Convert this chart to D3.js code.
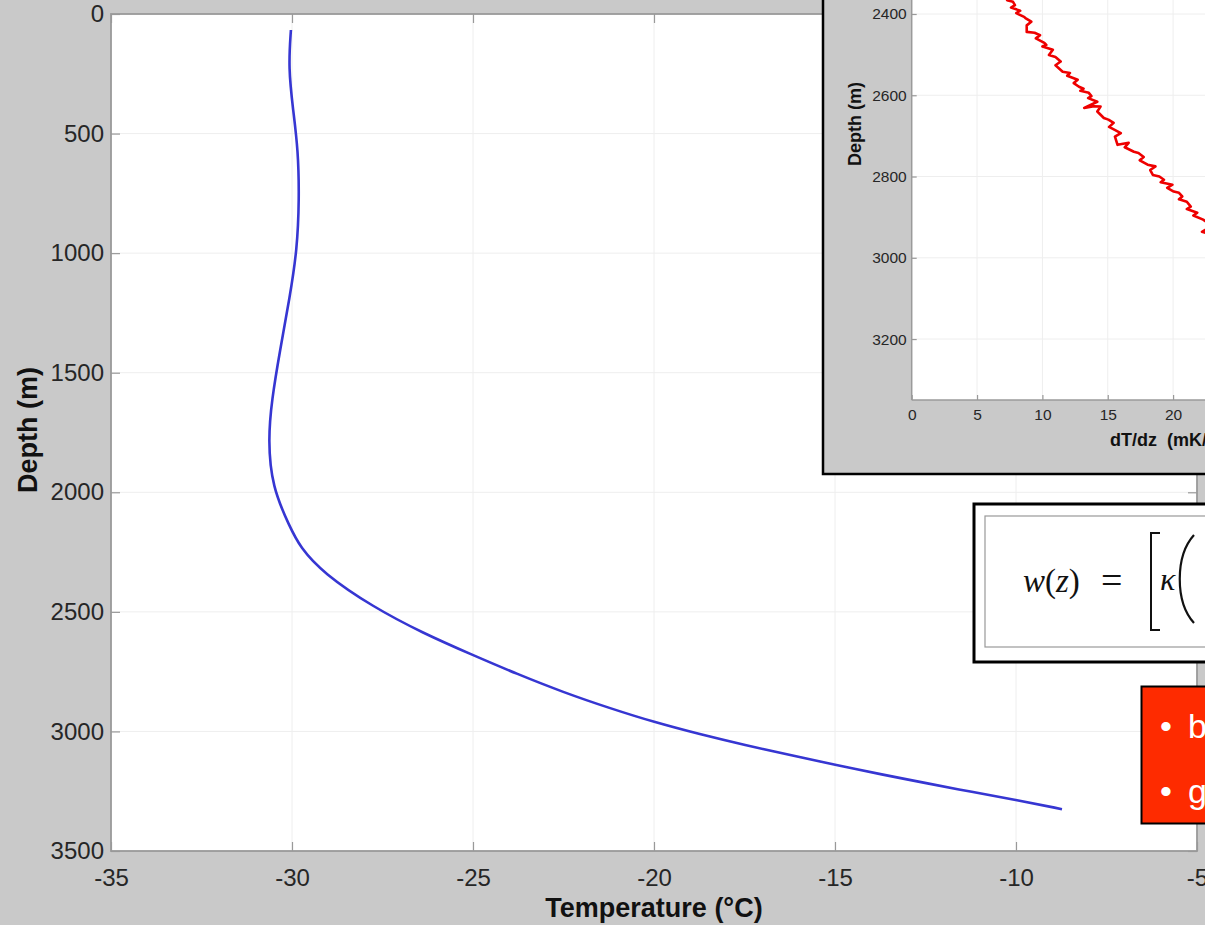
<!DOCTYPE html>
<html>
<head>
<meta charset="utf-8">
<script src="https://cdn.jsdelivr.net/npm/d3@7"></script>
<style>
  body { margin: 0; background: #c9c9c9; }
  svg { display: block; font-family: "Liberation Sans", Arial, Helvetica, sans-serif; }
</style>
</head>
<body>
<script>
// main profile: temperature vs depth
var depth = [67, 224, 401, 569, 778, 987, 1183, 1405, 1614, 1782, 1978, 2145, 2229, 2338,
             2480, 2589, 2681, 2760, 2836, 2903, 2961, 3012, 3057, 3100, 3141, 3180, 3216, 3253, 3287, 3325];
var temperature = [-30.03, -30.1, -29.97, -29.83, -29.8, -29.86, -30.06, -30.33, -30.56, -30.66,
                   -30.55, -30.06, -29.78, -29.14, -27.76, -26.38, -25.0, -23.78, -22.51, -21.22,
                   -20.0, -18.73, -17.49, -16.19, -14.97, -13.7, -12.49, -11.22, -9.97, -8.73];

// inset: measured gradient near the bed
var gradDepth = [2353, 2362, 2366, 2370, 2378, 2384, 2392, 2398, 2407, 2410, 2419, 2428, 2444, 2446,
                 2452, 2460, 2471, 2476, 2480, 2488, 2501, 2506, 2517, 2526, 2542, 2545, 2552, 2562,
                 2570, 2579, 2584, 2589, 2594, 2602, 2607, 2616, 2631, 2627, 2628, 2640, 2656, 2660,
                 2668, 2678, 2693, 2702, 2722, 2717, 2728, 2739, 2742, 2752, 2760, 2771, 2775, 2784,
                 2796, 2800, 2808, 2814, 2820, 2828, 2837, 2840, 2849, 2856, 2862, 2874, 2880, 2889,
                 2896, 2906, 2921, 2936, 2946];
var gradient = [7.37, 7.7, 7.3, 7.75, 7.9, 7.6, 8.3, 8.0, 8.6, 8.7, 9.15, 8.8, 8.8, 9.4,
                9.82, 9.5, 10.15, 10.3, 10.0, 10.8, 10.5, 11.0, 11.4, 11.0, 11.55, 12.11, 11.9, 12.7,
                12.4, 12.8, 13.15, 12.9, 13.55, 13.75, 13.5, 14.2, 13.2, 13.95, 14.45, 14.2, 14.7, 15.05,
                15.45, 15.1, 16.0, 15.55, 15.75, 16.6, 16.3, 17.0, 17.35, 17.75, 17.45, 18.05, 18.65, 18.25,
                18.45, 18.95, 19.3, 19.05, 19.95, 19.55, 20.05, 20.45, 20.7, 20.45, 21.05, 21.35, 21.05, 21.85,
                21.55, 22.3, 22.98, 22.21, 23.2];

var tempTicks = [-35, -30, -25, -20, -15, -10, -5];
var depthTicks = [0, 500, 1000, 1500, 2000, 2500, 3000, 3500];
var gradTicks = [0, 5, 10, 15, 20, 25, 30];
var gradDepthTicks = [2400, 2600, 2800, 3000, 3200];

var W = 1205, H = 925;
var svg = d3.select("body").append("svg")
    .attr("width", W)
    .attr("height", H);

svg.append("rect").attr("width", W).attr("height", H).attr("fill", "#c9c9c9");

// ---------- main axes ----------
var x = d3.scaleLinear().domain([-35, -5]).range([111, 1197]);
var y = d3.scaleLinear().domain([0, 3500]).range([14, 851]);

var main = svg.append("g");

main.append("rect")
    .attr("x", x(-35)).attr("y", y(0))
    .attr("width", x(-5) - x(-35)).attr("height", y(3500) - y(0))
    .attr("fill", "#fff");

main.append("g").selectAll("line")
    .data(tempTicks.slice(1, -1))
  .enter().append("line")
    .attr("x1", function(d) { return x(d); })
    .attr("x2", function(d) { return x(d); })
    .attr("y1", y(0)).attr("y2", y(3500))
    .attr("stroke", "#eeeeee");

main.append("g").selectAll("line")
    .data(depthTicks.slice(1, -1))
  .enter().append("line")
    .attr("y1", function(d) { return y(d); })
    .attr("y2", function(d) { return y(d); })
    .attr("x1", x(-35)).attr("x2", x(-5))
    .attr("stroke", "#eeeeee");

var line = d3.line()
    .x(function(d) { return x(d[0]); })
    .y(function(d) { return y(d[1]); })
    .curve(d3.curveBasis);

main.append("path")
    .datum(d3.zip(temperature, depth))
    .attr("d", line)
    .attr("fill", "none")
    .attr("stroke", "#3636d2")
    .attr("stroke-width", 2.6);

function plain(d) { return String(d); }

function styleAxis(g, size, hideText) {
  g.select(".domain").remove();
  g.selectAll(".tick line").attr("stroke", "#999").attr("stroke-width", 1.2);
  g.selectAll(".tick text")
      .attr("font-size", size)
      .attr("font-family", "'Liberation Sans', Arial, sans-serif")
      .attr("fill", "#262626");
  if (hideText) g.selectAll(".tick text").remove();
}

main.append("g")
    .attr("transform", "translate(0," + y(3500) + ")")
    .call(d3.axisBottom(x).tickValues(tempTicks).tickFormat(plain)
      .tickSizeInner(-9).tickSizeOuter(0).tickPadding(18))
    .call(styleAxis, 24, false);

main.append("g")
    .attr("transform", "translate(0," + y(0) + ")")
    .call(d3.axisTop(x).tickValues(tempTicks).tickSizeInner(-9).tickSizeOuter(0))
    .call(styleAxis, 24, true);

main.append("g")
    .attr("transform", "translate(" + x(-35) + ",0)")
    .call(d3.axisLeft(y).tickValues(depthTicks).tickFormat(plain)
      .tickSizeInner(-9).tickSizeOuter(0).tickPadding(7))
    .call(styleAxis, 24, false);

main.append("g")
    .attr("transform", "translate(" + x(-5) + ",0)")
    .call(d3.axisRight(y).tickValues(depthTicks).tickSizeInner(-9).tickSizeOuter(0))
    .call(styleAxis, 24, true);

main.append("rect")
    .attr("x", x(-35)).attr("y", y(0))
    .attr("width", x(-5) - x(-35)).attr("height", y(3500) - y(0))
    .attr("fill", "none")
    .attr("stroke", "#9a9a9a")
    .attr("stroke-width", 1.8);

main.append("text")
    .attr("x", (x(-35) + x(-5)) / 2).attr("y", 917)
    .attr("text-anchor", "middle")
    .attr("font-size", 27).attr("font-weight", "bold")
    .attr("fill", "#111")
    .text("Temperature (°C)");

main.append("text")
    .attr("transform", "translate(37," + 430 + ") rotate(-90)")
    .attr("text-anchor", "middle")
    .attr("font-size", 27).attr("font-weight", "bold")
    .attr("fill", "#111")
    .text("Depth  (m)");

// ---------- inset ----------
var xi = d3.scaleLinear().domain([0, 30]).range([911.7, 1303.8]);
var yi = d3.scaleLinear().domain([2400, 3350]).range([14, 400]);

var inset = svg.append("g");

inset.append("rect")
    .attr("x", 823).attr("y", -10)
    .attr("width", 500).attr("height", 484)
    .attr("fill", "#c9c9c9")
    .attr("stroke", "#000")
    .attr("stroke-width", 2.5);

inset.append("rect")
    .attr("x", xi(0)).attr("y", -10)
    .attr("width", 420).attr("height", yi(3350) + 10)
    .attr("fill", "#fff");

inset.append("g").selectAll("line")
    .data(gradTicks.slice(1))
  .enter().append("line")
    .attr("x1", function(d) { return xi(d); })
    .attr("x2", function(d) { return xi(d); })
    .attr("y1", -10).attr("y2", yi(3350))
    .attr("stroke", "#eeeeee");

inset.append("g").selectAll("line")
    .data(gradDepthTicks)
  .enter().append("line")
    .attr("y1", function(d) { return yi(d); })
    .attr("y2", function(d) { return yi(d); })
    .attr("x1", xi(0)).attr("x2", xi(30))
    .attr("stroke", "#eeeeee");

svg.append("clipPath").attr("id", "inset-clip")
  .append("rect")
    .attr("x", xi(0)).attr("y", -10)
    .attr("width", 420).attr("height", yi(3350) + 10);

var gline = d3.line()
    .x(function(d) { return xi(d[0]); })
    .y(function(d) { return yi(d[1]); });

inset.append("path")
    .datum(d3.zip(gradient, gradDepth))
    .attr("clip-path", "url(#inset-clip)")
    .attr("d", gline)
    .attr("fill", "none")
    .attr("stroke", "#ee0000")
    .attr("stroke-width", 2.6)
    .attr("stroke-linejoin", "round");

inset.append("g")
    .attr("transform", "translate(0," + yi(3350) + ")")
    .call(d3.axisBottom(xi).tickValues(gradTicks).tickFormat(plain)
      .tickSizeInner(-5).tickSizeOuter(0).tickPadding(9))
    .call(styleAxis, 15.5, false);

inset.append("g")
    .attr("transform", "translate(" + xi(0) + ",0)")
    .call(d3.axisLeft(yi).tickValues(gradDepthTicks).tickFormat(plain)
      .tickSizeInner(-5).tickSizeOuter(0).tickPadding(5))
    .call(styleAxis, 15.5, false);

inset.append("line")
    .attr("x1", xi(0)).attr("x2", xi(0))
    .attr("y1", -10).attr("y2", yi(3350))
    .attr("stroke", "#9a9a9a").attr("stroke-width", 1.5);
inset.append("line")
    .attr("x1", xi(0)).attr("x2", xi(30))
    .attr("y1", yi(3350)).attr("y2", yi(3350))
    .attr("stroke", "#9a9a9a").attr("stroke-width", 1.5);

inset.append("text")
    .attr("x", 1110).attr("y", 446)
    .attr("font-size", 18).attr("font-weight", "bold")
    .attr("fill", "#111")
    .attr("xml:space", "preserve")
    .text("dT/dz  (mK/m)");

inset.append("text")
    .attr("transform", "translate(861,124) rotate(-90)")
    .attr("text-anchor", "middle")
    .attr("font-size", 18).attr("font-weight", "bold")
    .attr("fill", "#111")
    .text("Depth (m)");

// ---------- equation box ----------
var eq = svg.append("g");
eq.append("rect")
    .attr("x", 974).attr("y", 504)
    .attr("width", 300).attr("height", 158)
    .attr("fill", "#fff")
    .attr("stroke", "#000").attr("stroke-width", 3);
eq.append("rect")
    .attr("x", 985).attr("y", 516)
    .attr("width", 300).attr("height", 131)
    .attr("fill", "none")
    .attr("stroke", "#999").attr("stroke-width", 1.2);

var eqText = eq.append("text")
    .attr("x", 1023).attr("y", 592)
    .attr("font-family", "'Liberation Serif', 'DejaVu Serif', serif")
    .attr("font-size", 33)
    .attr("fill", "#111");
eqText.append("tspan").attr("font-style", "italic").text("w");
eqText.append("tspan").text("(");
eqText.append("tspan").attr("font-style", "italic").text("z");
eqText.append("tspan").text(")");

eq.append("text")
    .attr("x", 1101).attr("y", 593)
    .attr("font-family", "'Liberation Serif', serif")
    .attr("font-size", 38).attr("fill", "#111")
    .text("=");

eq.append("path")
    .attr("d", "M1160,533 H1151 V630 H1160")
    .attr("fill", "none").attr("stroke", "#111").attr("stroke-width", 2);

eq.append("text")
    .attr("x", 1160).attr("y", 590)
    .attr("font-family", "'Liberation Serif', 'DejaVu Serif', serif")
    .attr("font-style", "italic")
    .attr("font-size", 32).attr("fill", "#111")
    .text("κ");

eq.append("path")
    .attr("d", "M1194,535 C1175,556 1175,602 1194,623")
    .attr("fill", "none").attr("stroke", "#111").attr("stroke-width", 2.2);

// ---------- red note box ----------
var note = svg.append("g");
note.append("rect")
    .attr("x", 1141.5).attr("y", 686.5)
    .attr("width", 100).attr("height", 137)
    .attr("fill", "#fe2b00")
    .attr("stroke", "#000").attr("stroke-width", 2);

var noteLines = ["b", "g"];
note.selectAll("text.item")
    .data(noteLines)
  .enter().append("text")
    .attr("class", "item")
    .attr("y", function(d, i) { return 738 + i * 65; })
    .attr("font-size", 34)
    .attr("fill", "#fff")
    .each(function(d) {
      var t = d3.select(this);
      t.append("tspan").attr("x", 1160).text("•");
      t.append("tspan").attr("x", 1188).text(d);
    });
</script>
</body>
</html>
